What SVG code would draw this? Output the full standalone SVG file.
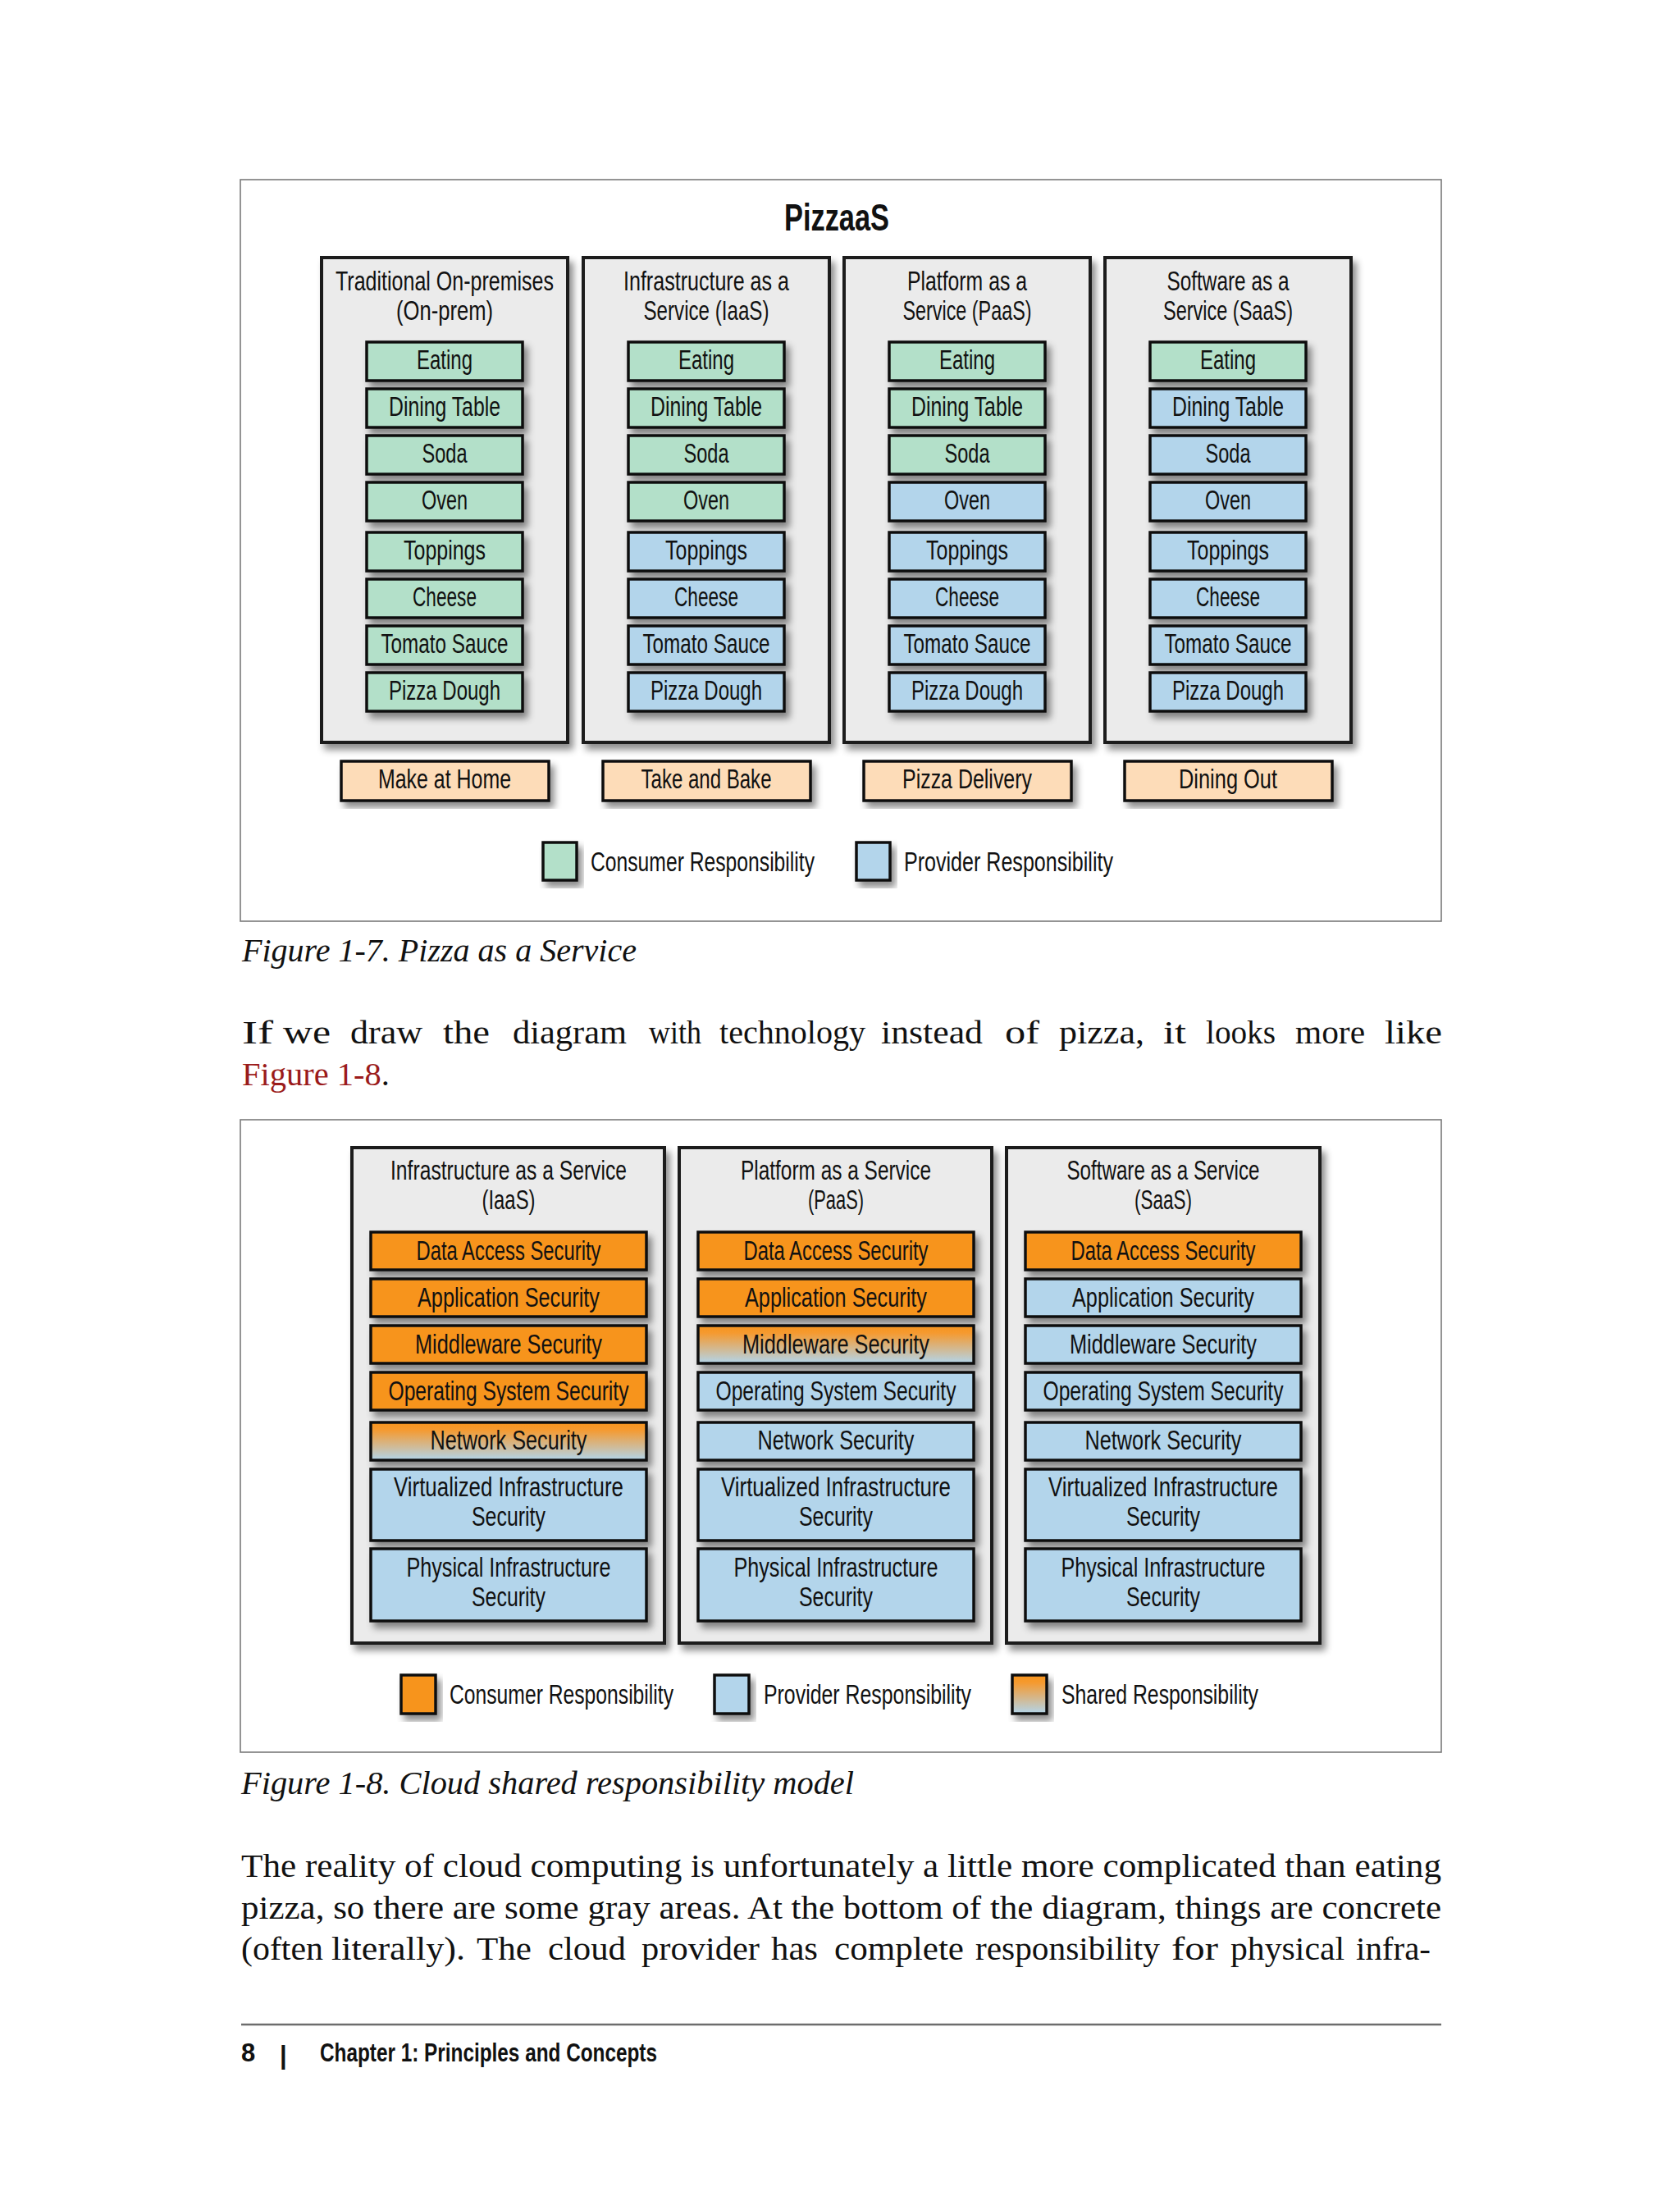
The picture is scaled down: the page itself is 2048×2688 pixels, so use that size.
<svg xmlns="http://www.w3.org/2000/svg" width="2048" height="2688" viewBox="0 0 2048 2688">
<defs>
<filter id="sh" x="-10%" y="-10%" width="130%" height="130%"><feDropShadow dx="5" dy="7" stdDeviation="4" flood-color="#000" flood-opacity="0.45"/></filter>
<linearGradient id="shared" x1="0" y1="0" x2="0" y2="1"><stop offset="0" stop-color="#f7941d"/><stop offset="0.2" stop-color="#f59a30"/><stop offset="1" stop-color="#b2d5eb"/></linearGradient>
<style>
.frame{fill:#fff;stroke:#7a7a7a;stroke-width:1.6}
.col{fill:#ebebeb;stroke:#1a1a1a;stroke-width:4}
.it{stroke:#111;stroke-width:3.5}
.g{fill:#b3e0c9}.b{fill:#b3d5eb}.p{fill:#fddcb8}.o{fill:#f7941d}.s{fill:url(#shared)}
.t{font-family:"Liberation Sans",Arial,sans-serif;font-size:34px;fill:#111;text-anchor:middle}
.ts{font-family:"Liberation Sans",Arial,sans-serif;font-size:34px;fill:#111}
.title{font-family:"Liberation Sans",Arial,sans-serif;font-size:46px;font-weight:bold;fill:#111;text-anchor:middle}
.body{font-family:"Liberation Serif","Times New Roman",serif;font-size:40px;fill:#111}
.cap{font-family:"Liberation Serif","Times New Roman",serif;font-style:italic;font-size:41px;fill:#111}
.foot{font-family:"Liberation Sans",Arial,sans-serif;font-weight:bold;font-size:31px;fill:#111}
</style>
</defs>
<rect width="2048" height="2688" fill="#fff"/>

<!-- Figure 1-7 -->
<g id="fig7">
<rect class="frame" x="293" y="219" width="1464" height="904"/>
<text class="title" x="1020" y="281" textLength="128" lengthAdjust="spacingAndGlyphs">PizzaaS</text>

<g id="col-onprem">
<rect class="col" filter="url(#sh)" x="392" y="314" width="300" height="591"/>
<text class="t" x="542" y="354" textLength="266" lengthAdjust="spacingAndGlyphs">Traditional On-premises</text>
<text class="t" x="542" y="390" textLength="118" lengthAdjust="spacingAndGlyphs">(On-prem)</text>
<g filter="url(#sh)">
<rect class="it g" x="447" y="417" width="190" height="47"/>
<rect class="it g" x="447" y="474" width="190" height="47"/>
<rect class="it g" x="447" y="531" width="190" height="47"/>
<rect class="it g" x="447" y="588" width="190" height="47"/>
<rect class="it g" x="447" y="649" width="190" height="47"/>
<rect class="it g" x="447" y="706" width="190" height="47"/>
<rect class="it g" x="447" y="763" width="190" height="47"/>
<rect class="it g" x="447" y="820" width="190" height="47"/>
</g>
<text class="t" x="542" y="450" textLength="68" lengthAdjust="spacingAndGlyphs">Eating</text>
<text class="t" x="542" y="507" textLength="136" lengthAdjust="spacingAndGlyphs">Dining Table</text>
<text class="t" x="542" y="564" textLength="55" lengthAdjust="spacingAndGlyphs">Soda</text>
<text class="t" x="542" y="621" textLength="56" lengthAdjust="spacingAndGlyphs">Oven</text>
<text class="t" x="542" y="682" textLength="100" lengthAdjust="spacingAndGlyphs">Toppings</text>
<text class="t" x="542" y="739" textLength="78" lengthAdjust="spacingAndGlyphs">Cheese</text>
<text class="t" x="542" y="796" textLength="155" lengthAdjust="spacingAndGlyphs">Tomato Sauce</text>
<text class="t" x="542" y="853" textLength="136" lengthAdjust="spacingAndGlyphs">Pizza Dough</text>
</g>

<g id="col-iaas">
<rect class="col" filter="url(#sh)" x="711" y="314" width="300" height="591"/>
<text class="t" x="861" y="354" textLength="202" lengthAdjust="spacingAndGlyphs">Infrastructure as a</text>
<text class="t" x="861" y="390" textLength="153" lengthAdjust="spacingAndGlyphs">Service (IaaS)</text>
<g filter="url(#sh)">
<rect class="it g" x="766" y="417" width="190" height="47"/>
<rect class="it g" x="766" y="474" width="190" height="47"/>
<rect class="it g" x="766" y="531" width="190" height="47"/>
<rect class="it g" x="766" y="588" width="190" height="47"/>
<rect class="it b" x="766" y="649" width="190" height="47"/>
<rect class="it b" x="766" y="706" width="190" height="47"/>
<rect class="it b" x="766" y="763" width="190" height="47"/>
<rect class="it b" x="766" y="820" width="190" height="47"/>
</g>
<text class="t" x="861" y="450" textLength="68" lengthAdjust="spacingAndGlyphs">Eating</text>
<text class="t" x="861" y="507" textLength="136" lengthAdjust="spacingAndGlyphs">Dining Table</text>
<text class="t" x="861" y="564" textLength="55" lengthAdjust="spacingAndGlyphs">Soda</text>
<text class="t" x="861" y="621" textLength="56" lengthAdjust="spacingAndGlyphs">Oven</text>
<text class="t" x="861" y="682" textLength="100" lengthAdjust="spacingAndGlyphs">Toppings</text>
<text class="t" x="861" y="739" textLength="78" lengthAdjust="spacingAndGlyphs">Cheese</text>
<text class="t" x="861" y="796" textLength="155" lengthAdjust="spacingAndGlyphs">Tomato Sauce</text>
<text class="t" x="861" y="853" textLength="136" lengthAdjust="spacingAndGlyphs">Pizza Dough</text>
</g>

<g id="col-paas">
<rect class="col" filter="url(#sh)" x="1029" y="314" width="300" height="591"/>
<text class="t" x="1179" y="354" textLength="146" lengthAdjust="spacingAndGlyphs">Platform as a</text>
<text class="t" x="1179" y="390" textLength="157" lengthAdjust="spacingAndGlyphs">Service (PaaS)</text>
<g filter="url(#sh)">
<rect class="it g" x="1084" y="417" width="190" height="47"/>
<rect class="it g" x="1084" y="474" width="190" height="47"/>
<rect class="it g" x="1084" y="531" width="190" height="47"/>
<rect class="it b" x="1084" y="588" width="190" height="47"/>
<rect class="it b" x="1084" y="649" width="190" height="47"/>
<rect class="it b" x="1084" y="706" width="190" height="47"/>
<rect class="it b" x="1084" y="763" width="190" height="47"/>
<rect class="it b" x="1084" y="820" width="190" height="47"/>
</g>
<text class="t" x="1179" y="450" textLength="68" lengthAdjust="spacingAndGlyphs">Eating</text>
<text class="t" x="1179" y="507" textLength="136" lengthAdjust="spacingAndGlyphs">Dining Table</text>
<text class="t" x="1179" y="564" textLength="55" lengthAdjust="spacingAndGlyphs">Soda</text>
<text class="t" x="1179" y="621" textLength="56" lengthAdjust="spacingAndGlyphs">Oven</text>
<text class="t" x="1179" y="682" textLength="100" lengthAdjust="spacingAndGlyphs">Toppings</text>
<text class="t" x="1179" y="739" textLength="78" lengthAdjust="spacingAndGlyphs">Cheese</text>
<text class="t" x="1179" y="796" textLength="155" lengthAdjust="spacingAndGlyphs">Tomato Sauce</text>
<text class="t" x="1179" y="853" textLength="136" lengthAdjust="spacingAndGlyphs">Pizza Dough</text>
</g>

<g id="col-saas">
<rect class="col" filter="url(#sh)" x="1347" y="314" width="300" height="591"/>
<text class="t" x="1497" y="354" textLength="149" lengthAdjust="spacingAndGlyphs">Software as a</text>
<text class="t" x="1497" y="390" textLength="158" lengthAdjust="spacingAndGlyphs">Service (SaaS)</text>
<g filter="url(#sh)">
<rect class="it g" x="1402" y="417" width="190" height="47"/>
<rect class="it b" x="1402" y="474" width="190" height="47"/>
<rect class="it b" x="1402" y="531" width="190" height="47"/>
<rect class="it b" x="1402" y="588" width="190" height="47"/>
<rect class="it b" x="1402" y="649" width="190" height="47"/>
<rect class="it b" x="1402" y="706" width="190" height="47"/>
<rect class="it b" x="1402" y="763" width="190" height="47"/>
<rect class="it b" x="1402" y="820" width="190" height="47"/>
</g>
<text class="t" x="1497" y="450" textLength="68" lengthAdjust="spacingAndGlyphs">Eating</text>
<text class="t" x="1497" y="507" textLength="136" lengthAdjust="spacingAndGlyphs">Dining Table</text>
<text class="t" x="1497" y="564" textLength="55" lengthAdjust="spacingAndGlyphs">Soda</text>
<text class="t" x="1497" y="621" textLength="56" lengthAdjust="spacingAndGlyphs">Oven</text>
<text class="t" x="1497" y="682" textLength="100" lengthAdjust="spacingAndGlyphs">Toppings</text>
<text class="t" x="1497" y="739" textLength="78" lengthAdjust="spacingAndGlyphs">Cheese</text>
<text class="t" x="1497" y="796" textLength="155" lengthAdjust="spacingAndGlyphs">Tomato Sauce</text>
<text class="t" x="1497" y="853" textLength="136" lengthAdjust="spacingAndGlyphs">Pizza Dough</text>
</g>

<g id="modes">
<g filter="url(#sh)">
<rect class="it p" x="416" y="928" width="253" height="48"/>
<rect class="it p" x="735" y="928" width="253" height="48"/>
<rect class="it p" x="1053" y="928" width="253" height="48"/>
<rect class="it p" x="1371" y="928" width="253" height="48"/>
</g>
<text class="t" x="542" y="961" textLength="162" lengthAdjust="spacingAndGlyphs">Make at Home</text>
<text class="t" x="861" y="961" textLength="159" lengthAdjust="spacingAndGlyphs">Take and Bake</text>
<text class="t" x="1179" y="961" textLength="158" lengthAdjust="spacingAndGlyphs">Pizza Delivery</text>
<text class="t" x="1497" y="961" textLength="120" lengthAdjust="spacingAndGlyphs">Dining Out</text>
</g>

<g id="legend7">
<rect class="it g" filter="url(#sh)" x="662" y="1027" width="41" height="46"/>
<text class="ts" x="720" y="1062" textLength="273" lengthAdjust="spacingAndGlyphs">Consumer Responsibility</text>
<rect class="it b" filter="url(#sh)" x="1044" y="1027" width="41" height="46"/>
<text class="ts" x="1102" y="1062" textLength="255" lengthAdjust="spacingAndGlyphs">Provider Responsibility</text>
</g>
</g>

<text class="cap" x="295" y="1172" textLength="481" lengthAdjust="spacingAndGlyphs">Figure 1-7. Pizza as a Service</text>

<g class="body">
<text x="295" y="1272" textLength="38" lengthAdjust="spacingAndGlyphs">If</text>
<text x="345" y="1272" textLength="58" lengthAdjust="spacingAndGlyphs">we</text>
<text x="427" y="1272" textLength="88" lengthAdjust="spacingAndGlyphs">draw</text>
<text x="540" y="1272" textLength="57" lengthAdjust="spacingAndGlyphs">the</text>
<text x="625" y="1272" textLength="139" lengthAdjust="spacingAndGlyphs">diagram</text>
<text x="791" y="1272" textLength="64" lengthAdjust="spacingAndGlyphs">with</text>
<text x="877" y="1272" textLength="178" lengthAdjust="spacingAndGlyphs">technology</text>
<text x="1074" y="1272" textLength="124" lengthAdjust="spacingAndGlyphs">instead</text>
<text x="1225" y="1272" textLength="42" lengthAdjust="spacingAndGlyphs">of</text>
<text x="1291" y="1272" textLength="104" lengthAdjust="spacingAndGlyphs">pizza,</text>
<text x="1418" y="1272" textLength="28" lengthAdjust="spacingAndGlyphs">it</text>
<text x="1470" y="1272" textLength="85" lengthAdjust="spacingAndGlyphs">looks</text>
<text x="1579" y="1272" textLength="85" lengthAdjust="spacingAndGlyphs">more</text>
<text x="1688" y="1272" textLength="70" lengthAdjust="spacingAndGlyphs">like</text>
<text x="295" y="1323" textLength="180" lengthAdjust="spacingAndGlyphs"><tspan fill="#9b1b1b">Figure 1-8</tspan>.</text>
</g>

<!-- Figure 1-8 -->
<g id="fig8">
<rect class="frame" x="293" y="1365" width="1464" height="771"/>

<g id="c-iaas">
<rect class="col" filter="url(#sh)" x="429" y="1399" width="381" height="604"/>
<text class="t" x="620" y="1438" textLength="288" lengthAdjust="spacingAndGlyphs">Infrastructure as a Service</text>
<text class="t" x="620" y="1474" textLength="65" lengthAdjust="spacingAndGlyphs">(IaaS)</text>
<g filter="url(#sh)">
<rect class="it o" x="452" y="1502" width="336" height="46"/>
<rect class="it o" x="452" y="1559" width="336" height="46"/>
<rect class="it o" x="452" y="1616" width="336" height="46"/>
<rect class="it o" x="452" y="1673" width="336" height="46"/>
<rect class="it s" x="452" y="1734" width="336" height="46"/>
<rect class="it b" x="452" y="1791" width="336" height="87"/>
<rect class="it b" x="452" y="1888" width="336" height="88"/>
</g>
<text class="t" x="620" y="1536" textLength="225" lengthAdjust="spacingAndGlyphs">Data Access Security</text>
<text class="t" x="620" y="1593" textLength="222" lengthAdjust="spacingAndGlyphs">Application Security</text>
<text class="t" x="620" y="1650" textLength="228" lengthAdjust="spacingAndGlyphs">Middleware Security</text>
<text class="t" x="620" y="1707" textLength="293" lengthAdjust="spacingAndGlyphs">Operating System Security</text>
<text class="t" x="620" y="1767" textLength="191" lengthAdjust="spacingAndGlyphs">Network Security</text>
<text class="t" x="620" y="1824" textLength="280" lengthAdjust="spacingAndGlyphs">Virtualized Infrastructure</text>
<text class="t" x="620" y="1860" textLength="90" lengthAdjust="spacingAndGlyphs">Security</text>
<text class="t" x="620" y="1922" textLength="249" lengthAdjust="spacingAndGlyphs">Physical Infrastructure</text>
<text class="t" x="620" y="1958" textLength="90" lengthAdjust="spacingAndGlyphs">Security</text>
</g>

<g id="c-paas">
<rect class="col" filter="url(#sh)" x="828" y="1399" width="381" height="604"/>
<text class="t" x="1019" y="1438" textLength="232" lengthAdjust="spacingAndGlyphs">Platform as a Service</text>
<text class="t" x="1019" y="1474" textLength="68" lengthAdjust="spacingAndGlyphs">(PaaS)</text>
<g filter="url(#sh)">
<rect class="it o" x="851" y="1502" width="336" height="46"/>
<rect class="it o" x="851" y="1559" width="336" height="46"/>
<rect class="it s" x="851" y="1616" width="336" height="46"/>
<rect class="it b" x="851" y="1673" width="336" height="46"/>
<rect class="it b" x="851" y="1734" width="336" height="46"/>
<rect class="it b" x="851" y="1791" width="336" height="87"/>
<rect class="it b" x="851" y="1888" width="336" height="88"/>
</g>
<text class="t" x="1019" y="1536" textLength="225" lengthAdjust="spacingAndGlyphs">Data Access Security</text>
<text class="t" x="1019" y="1593" textLength="222" lengthAdjust="spacingAndGlyphs">Application Security</text>
<text class="t" x="1019" y="1650" textLength="228" lengthAdjust="spacingAndGlyphs">Middleware Security</text>
<text class="t" x="1019" y="1707" textLength="293" lengthAdjust="spacingAndGlyphs">Operating System Security</text>
<text class="t" x="1019" y="1767" textLength="191" lengthAdjust="spacingAndGlyphs">Network Security</text>
<text class="t" x="1019" y="1824" textLength="280" lengthAdjust="spacingAndGlyphs">Virtualized Infrastructure</text>
<text class="t" x="1019" y="1860" textLength="90" lengthAdjust="spacingAndGlyphs">Security</text>
<text class="t" x="1019" y="1922" textLength="249" lengthAdjust="spacingAndGlyphs">Physical Infrastructure</text>
<text class="t" x="1019" y="1958" textLength="90" lengthAdjust="spacingAndGlyphs">Security</text>
</g>

<g id="c-saas">
<rect class="col" filter="url(#sh)" x="1227" y="1399" width="382" height="604"/>
<text class="t" x="1418" y="1438" textLength="235" lengthAdjust="spacingAndGlyphs">Software as a Service</text>
<text class="t" x="1418" y="1474" textLength="70" lengthAdjust="spacingAndGlyphs">(SaaS)</text>
<g filter="url(#sh)">
<rect class="it o" x="1250" y="1502" width="336" height="46"/>
<rect class="it b" x="1250" y="1559" width="336" height="46"/>
<rect class="it b" x="1250" y="1616" width="336" height="46"/>
<rect class="it b" x="1250" y="1673" width="336" height="46"/>
<rect class="it b" x="1250" y="1734" width="336" height="46"/>
<rect class="it b" x="1250" y="1791" width="336" height="87"/>
<rect class="it b" x="1250" y="1888" width="336" height="88"/>
</g>
<text class="t" x="1418" y="1536" textLength="225" lengthAdjust="spacingAndGlyphs">Data Access Security</text>
<text class="t" x="1418" y="1593" textLength="222" lengthAdjust="spacingAndGlyphs">Application Security</text>
<text class="t" x="1418" y="1650" textLength="228" lengthAdjust="spacingAndGlyphs">Middleware Security</text>
<text class="t" x="1418" y="1707" textLength="293" lengthAdjust="spacingAndGlyphs">Operating System Security</text>
<text class="t" x="1418" y="1767" textLength="191" lengthAdjust="spacingAndGlyphs">Network Security</text>
<text class="t" x="1418" y="1824" textLength="280" lengthAdjust="spacingAndGlyphs">Virtualized Infrastructure</text>
<text class="t" x="1418" y="1860" textLength="90" lengthAdjust="spacingAndGlyphs">Security</text>
<text class="t" x="1418" y="1922" textLength="249" lengthAdjust="spacingAndGlyphs">Physical Infrastructure</text>
<text class="t" x="1418" y="1958" textLength="90" lengthAdjust="spacingAndGlyphs">Security</text>
</g>

<g id="legend8">
<rect class="it o" filter="url(#sh)" x="489" y="2042" width="42" height="47"/>
<text class="ts" x="548" y="2077" textLength="273" lengthAdjust="spacingAndGlyphs">Consumer Responsibility</text>
<rect class="it b" filter="url(#sh)" x="871" y="2042" width="42" height="47"/>
<text class="ts" x="931" y="2077" textLength="253" lengthAdjust="spacingAndGlyphs">Provider Responsibility</text>
<rect class="it s" filter="url(#sh)" x="1234" y="2042" width="42" height="47"/>
<text class="ts" x="1294" y="2077" textLength="240" lengthAdjust="spacingAndGlyphs">Shared Responsibility</text>
</g>
</g>

<text class="cap" x="294" y="2187" textLength="747" lengthAdjust="spacingAndGlyphs">Figure 1-8. Cloud shared responsibility model</text>

<g class="body">
<text x="294" y="2288" textLength="1463" lengthAdjust="spacingAndGlyphs">The reality of cloud computing is unfortunately a little more complicated than eating</text>
<text x="294" y="2339" textLength="1463" lengthAdjust="spacingAndGlyphs">pizza, so there are some gray areas. At the bottom of the diagram, things are concrete</text>
<text x="294" y="2389" textLength="100" lengthAdjust="spacingAndGlyphs">(often</text>
<text x="404" y="2389" textLength="163" lengthAdjust="spacingAndGlyphs">literally).</text>
<text x="581" y="2389" textLength="67" lengthAdjust="spacingAndGlyphs">The</text>
<text x="668" y="2389" textLength="95" lengthAdjust="spacingAndGlyphs">cloud</text>
<text x="782" y="2389" textLength="144" lengthAdjust="spacingAndGlyphs">provider</text>
<text x="940" y="2389" textLength="57" lengthAdjust="spacingAndGlyphs">has</text>
<text x="1017" y="2389" textLength="158" lengthAdjust="spacingAndGlyphs">complete</text>
<text x="1189" y="2389" textLength="225" lengthAdjust="spacingAndGlyphs">responsibility</text>
<text x="1428" y="2389" textLength="57" lengthAdjust="spacingAndGlyphs">for</text>
<text x="1500" y="2389" textLength="139" lengthAdjust="spacingAndGlyphs">physical</text>
<text x="1653" y="2389" textLength="91" lengthAdjust="spacingAndGlyphs">infra-</text>
</g>

<line x1="294" y1="2468" x2="1757" y2="2468" stroke="#6d6d6d" stroke-width="2.5"/>
<text class="foot" x="294" y="2513">8</text>
<text class="foot" x="341" y="2516" font-weight="normal">|</text>
<text class="foot" x="390" y="2513" textLength="411" lengthAdjust="spacingAndGlyphs">Chapter 1: Principles and Concepts</text>
</svg>
